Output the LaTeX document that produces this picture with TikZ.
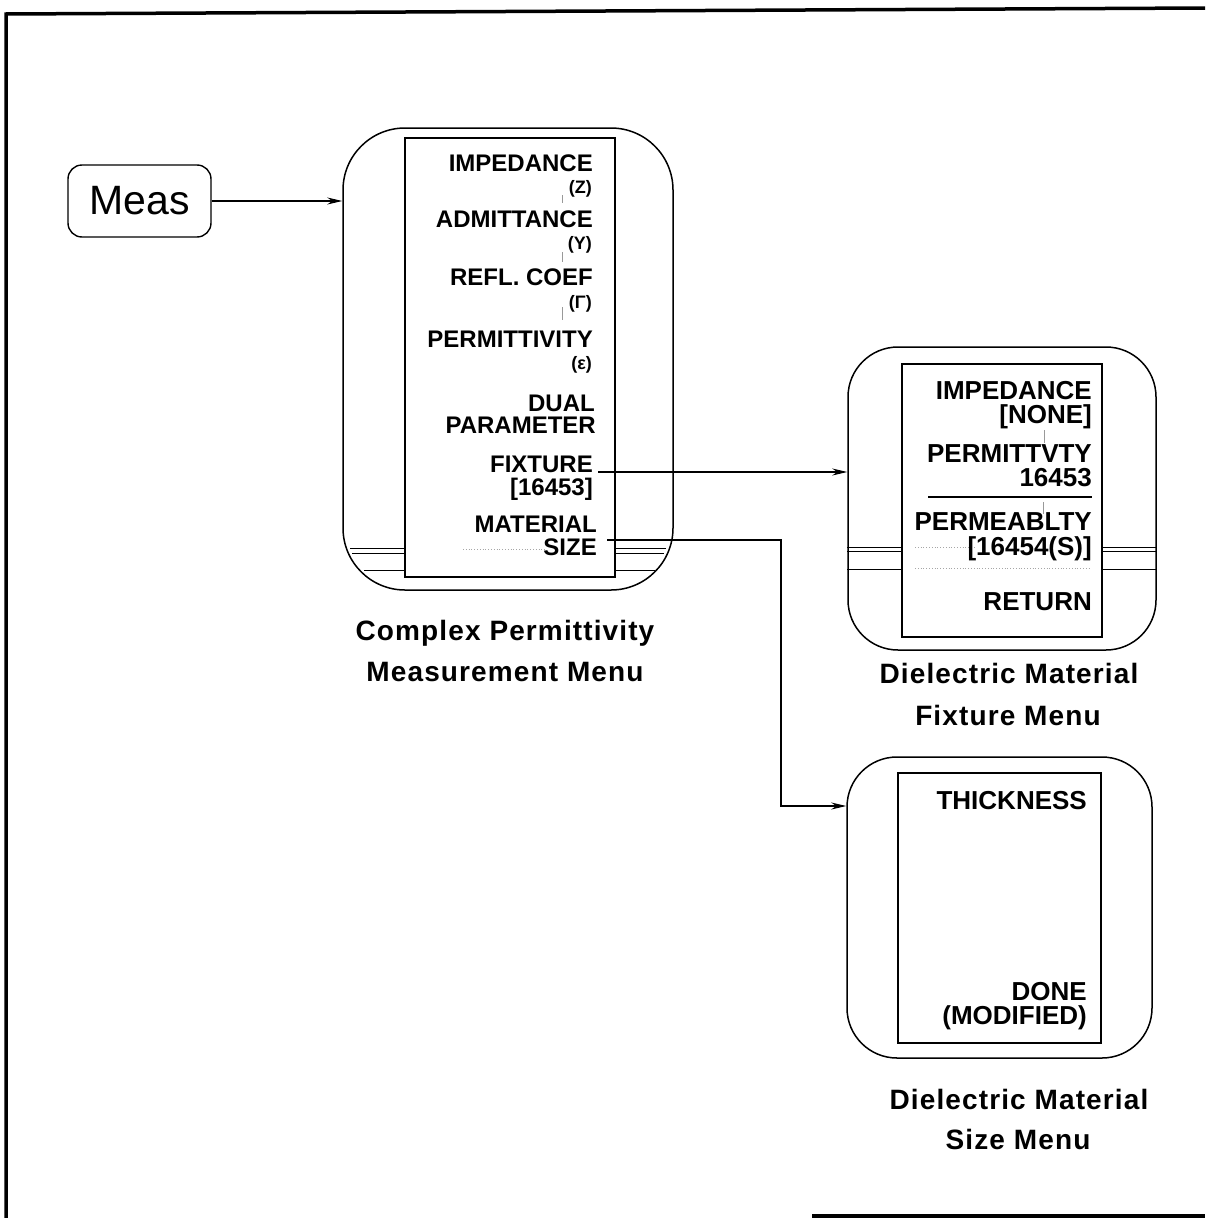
\documentclass[tikz,border=0pt]{standalone}
\usepackage{fontspec}
\setmainfont{Liberation Sans}
\newfontfamily\capfont[LetterSpace=4]{Liberation Sans}
\usetikzlibrary{arrows.meta,calc}
\begin{document}
\begin{tikzpicture}[x=1pt,y=-1pt,
  frame/.style={line width=3.5pt},
  outerbox/.style={draw,line width=1.5pt,inner sep=0pt},
  innerbox/.style={draw,line width=1.3pt,inner sep=0pt},
  mA/.style={font=\fontsize{24}{24}\selectfont\bfseries,inner sep=0pt,anchor=base east,text height=0.7em,text depth=0pt},
  mAs/.style={font=\fontsize{18}{18}\selectfont\bfseries,inner sep=0pt,anchor=base east,text height=0.7em,text depth=0pt},
  mB/.style={font=\fontsize{26}{26}\selectfont\bfseries,inner sep=0pt,anchor=base east,text height=0.7em,text depth=0pt},
  captxt/.style={font=\capfont\fontsize{28}{28}\selectfont\bfseries,inner sep=0pt,anchor=base},
  conn/.style={line width=1.2pt,-{Stealth[length=15pt,width=7pt]}},
  scanline/.style={line width=0.9pt},
  scandot/.style={line width=0.8pt,gray!70,dotted},
  tick/.style={line width=0.8pt,gray!80}]
\useasboundingbox (0,0) rectangle (1205,1218);
% outer frame
\draw[frame] (6,1218) -- (6,14) -- (1205,8);
\draw[frame] (812,1216) -- (1205,1216);

% Meas key
\node[draw,line width=1.4pt,rounded corners=14pt,minimum width=143pt,minimum height=72pt,
      font=\fontsize{41}{41}\selectfont] (meas) at (139.5,201) {Meas};

% Menu 1
\node[outerbox,rounded corners=62pt,minimum width=330pt,minimum height=462pt] (m1) at (508,359) {};
\node[innerbox,minimum width=210pt,minimum height=439pt] (i1) at (510,357.5) {};
\draw[scanline] (350,548) -- (i1.west |- 0,548) (i1.east |- 0,548) -- (666,548);
\draw[scanline] (352,553) -- (i1.west |- 0,553) (i1.east |- 0,553) -- (664,553);
\draw[scanline] (364,570) -- (i1.west |- 0,570) (i1.east |- 0,570) -- (655,570);
\draw[scandot] (463,549) -- (545,549);
\draw[tick] (562,195) -- (562,203) (562,252) -- (562,262) (562,307) -- (562,320);
\node[mA]  (a1)  at (593,171) {IMPEDANCE};
\node[mAs] (a2)  at (592,193) {(Z)};
\node[mA]  (a3)  at (593,227) {ADMITTANCE};
\node[mAs] (a4)  at (592,249) {(Y)};
\node[mA]  (a5)  at (593,285) {REFL. COEF};
\node[mAs] (a6)  at (592,308) {(Γ)};
\node[mA]  (a7)  at (593,347) {PERMITTIVITY};
\node[mAs] (a8)  at (592,369) {(ε)};
\node[mA]  (a9)  at (595,411) {DUAL};
\node[mA]  (a10) at (596,433) {PARAMETER};
\node[mA]  (fix) at (593,472) {FIXTURE};
\node[mA]  (a12) at (593,495) {[16453]};
\node[mA]  (a13) at (597,532) {MATERIAL};
\node[mA]  (size) at (597,555) {SIZE};
\node[captxt] (c1a) at (505,640) {Complex Permittivity};
\node[captxt] (c1b) at (505,681) {Measurement Menu};

% Menu 2
\node[outerbox,rounded corners=50pt,minimum width=308pt,minimum height=303pt] (m2) at (1002,498.5) {};
\node[innerbox,minimum width=200pt,minimum height=273pt] (i2) at (1002,500.5) {};
\draw[scanline] (m2.west |- 0,547) -- (i2.west |- 0,547) (i2.east |- 0,547) -- (m2.east |- 0,547);
\draw[scanline] (m2.west |- 0,551) -- (i2.west |- 0,551) (i2.east |- 0,551) -- (m2.east |- 0,551);
\draw[scanline] (m2.west |- 0,569) -- (i2.west |- 0,569) (i2.east |- 0,569) -- (m2.east |- 0,569);
\draw[scandot] (915,547) -- (975,547) (915,568) -- (1090,568);
\draw[tick] (1044,430) -- (1044,443) (1043,502) -- (1043,514);
\node[mB] (b1) at (1092,399) {IMPEDANCE};
\node[mB] (b2) at (1092,423) {[NONE]};
\node[mB] (b3) at (1092,462) {PERMITTVTY};
\node[mB] (b4) at (1092,486) {16453};
\draw[line width=1.3pt] (928,497) -- (1092,497);
\node[mB] (b5) at (1092,530) {PERMEABLTY};
\node[mB] (b6) at (1092,555) {[16454(S)]};
\node[mB] (b7) at (1092,610) {RETURN};
\node[captxt] (c2a) at (1009,683) {Dielectric Material};
\node[captxt] (c2b) at (1008,725) {Fixture Menu};

% Menu 3
\node[outerbox,rounded corners=50pt,minimum width=305pt,minimum height=301pt] (m3) at (999.5,907.5) {};
\node[innerbox,minimum width=203pt,minimum height=270pt] (i3) at (999.5,908) {};
\node[mB] (t1) at (1087,809) {THICKNESS};
\node[mB] (t2) at (1087,1000) {DONE};
\node[mB] (t3) at (1087,1024) {(MODIFIED)};
\node[captxt] (c3a) at (1019,1109) {Dielectric Material};
\node[captxt] (c3b) at (1018,1149) {Size Menu};

% connectors
\coordinate (sizebend) at (781,540);
\coordinate (m3in) at (m3.west |- 0,806);
\draw[conn] (meas.east) -- (meas.east -| m1.west);
\draw[conn] ($(fix.base east)+(5,0)$) -- (fix.base east -| m2.west);
\draw[conn] ($(size.east |- sizebend)+(10,0)$) -- (sizebend) |- (m3in);
\end{tikzpicture}
\end{document}
